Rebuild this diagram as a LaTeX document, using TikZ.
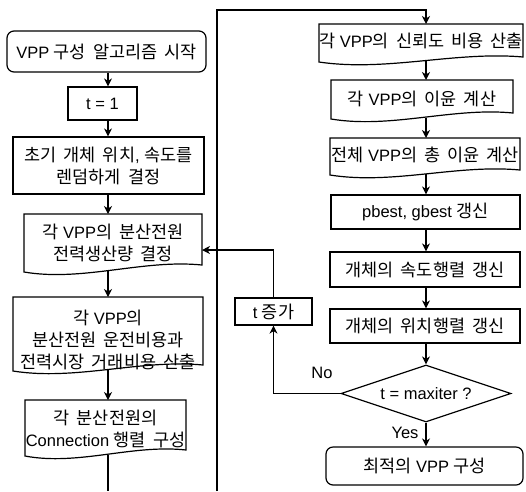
\documentclass[tikz,border=0pt]{standalone}
\usepackage{fontspec}
\setmainfont{Liberation Sans}
\newfontfamily\krfont{Noto Sans CJK KR}[Scale=1.06,WordSpace=1.8]
\newcommand\KR[1]{{\krfont #1}}
\usetikzlibrary{arrows.meta,shapes.geometric,calc}
\tikzset{
  line/.style={line width=1.2pt,black},
  arr/.style={line,-{Stealth[length=8pt,width=8pt,inset=2.5pt]}},
  txt/.style={align=center,inner sep=0pt,font=\fontsize{16.5}{22}\selectfont},
  box/.style={txt,draw,line width=1.2pt},
  rbox/.style={box,rounded corners=7pt},
  dia/.style={box,diamond,aspect=3},
  lbl/.style={txt}
}
% #1 name, #2 x0, #3 x1, #4 ytop, #5 y right-bottom, #6 y left-bottom, #7 connector x
\newcommand\docshape[7]{%
  \draw[line] (#2,#6) -- (#2,#4) -- (#3,#4) -- (#3,#5)
    .. controls ({#2+0.67*(#3-#2)},{#5-6}) and ({#2+0.33*(#3-#2)},{#6+10}) .. (#2,#6) -- cycle;
  \coordinate (#1-t) at (#7,#4);
  \coordinate (#1-b) at (#7,{(#5+#6)/2+1.5});
}
\begin{document}
\begin{tikzpicture}[x=1pt,y=-1pt]
\path[use as bounding box,fill=white] (0,0) rectangle (526,491);
\coordinate (colL) at (108,0);
\coordinate (colR) at (426,0);
% left column
\node[rbox,minimum width=199pt,minimum height=41pt] (start) at (106.5,51.5) {VPP \KR{구성 알고리즘 시작}};
\node[box,minimum width=69pt,minimum height=33pt] (t1) at (102.5,103.5) {t = 1};
\node[box,minimum width=191pt,minimum height=57pt] (init) at (108.5,165.5) {\KR{초기 개체 위치}, \KR{속도를}\\\KR{렌덤하게 결정}};
\docshape{d1}{24}{202}{214}{265}{272}{108}
\node[txt] (d1) at (113,243) {\KR{각} VPP\KR{의 분산전원}\\\KR{전력생산량 결정}};
\coordinate (d1-r) at (202,250);
\docshape{d2}{13}{203}{297}{365}{371}{108}
\node[txt] (d2) at (108,340) {\KR{각} VPP\KR{의}\\\KR{분산전원 운전비용과}\\\KR{전력시장 거래비용 산출}};
\docshape{d3}{25}{186}{400}{450}{456}{108}
\node[txt] (d3) at (105.5,429) {\KR{각 분산전원의}\\Connection \KR{행렬 구성}};
\coordinate (endL) at (108,491);
\coordinate (endR) at (217,491);
\coordinate (topL) at (217,10);
% right column
\docshape{r1}{319}{523}{24}{57}{62}{426}
\node[txt] (r1) at (421,41) {\KR{각} VPP\KR{의 신뢰도 비용 산출}};
\coordinate (topR) at (426,10);
\docshape{r2}{331}{513}{80}{113}{119}{426}
\node[txt] (r2) at (422,99) {\KR{각} VPP\KR{의 이윤 계산}};
\docshape{r3}{330}{520}{138}{170}{175}{426}
\node[txt] (r3) at (425,155) {\KR{전체} VPP\KR{의 총 이윤 계산}};
\node[box,minimum width=189pt,minimum height=34pt] (pb) at (425.5,212) {pbest, gbest \KR{갱신}};
\node[box,minimum width=190pt,minimum height=35pt] (r5) at (425,269.5) {\KR{개체의 속도행렬 갱신}};
\node[box,minimum width=190pt,minimum height=34pt] (r6) at (425,326) {\KR{개체의 위치행렬 갱신}};
\node[dia,minimum width=170pt,minimum height=57pt] (dec) at (426,393.5) {t = maxiter ?};
\node[rbox,minimum width=197pt,minimum height=38pt] (fin) at (424.5,466) {\KR{최적의} VPP \KR{구성}};
\node[box,minimum width=77pt,minimum height=27pt] (tinc) at (273.5,311.5) {t \KR{증가}};
\node[lbl] (no) at (322,373) {No};
\node[lbl] (yes) at (405,433) {Yes};
% connectors left
\draw[arr] (start.south -| colL) -- (t1.north -| colL);
\draw[arr] (t1.south -| colL) -- (init.north -| colL);
\draw[arr] (init.south -| colL) -- (d1-t);
\draw[arr] (d1-b) -- (d2-t);
\draw[arr] (d2-b) -- (d3-t);
\draw[line] (d3-b) -- (endL);
\draw[arr] (endR) -- (topL) -- (topR) -- (r1-t);
% connectors right
\draw[arr] (r1-b) -- (r2-t);
\draw[arr] (r2-b) -- (r3-t);
\draw[arr] (r3-b) -- (pb.north -| colR);
\draw[arr] (pb.south -| colR) -- (r5.north -| colR);
\draw[arr] (r5.south -| colR) -- (r6.north -| colR);
\draw[arr] (r6.south -| colR) -- (dec.north);
\draw[arr] (dec.south) -- (fin.north -| dec.south);
\draw[arr] (dec.west) -| (tinc.south);
\draw[arr] (tinc.north) |- (d1-r);
\end{tikzpicture}
\end{document}
